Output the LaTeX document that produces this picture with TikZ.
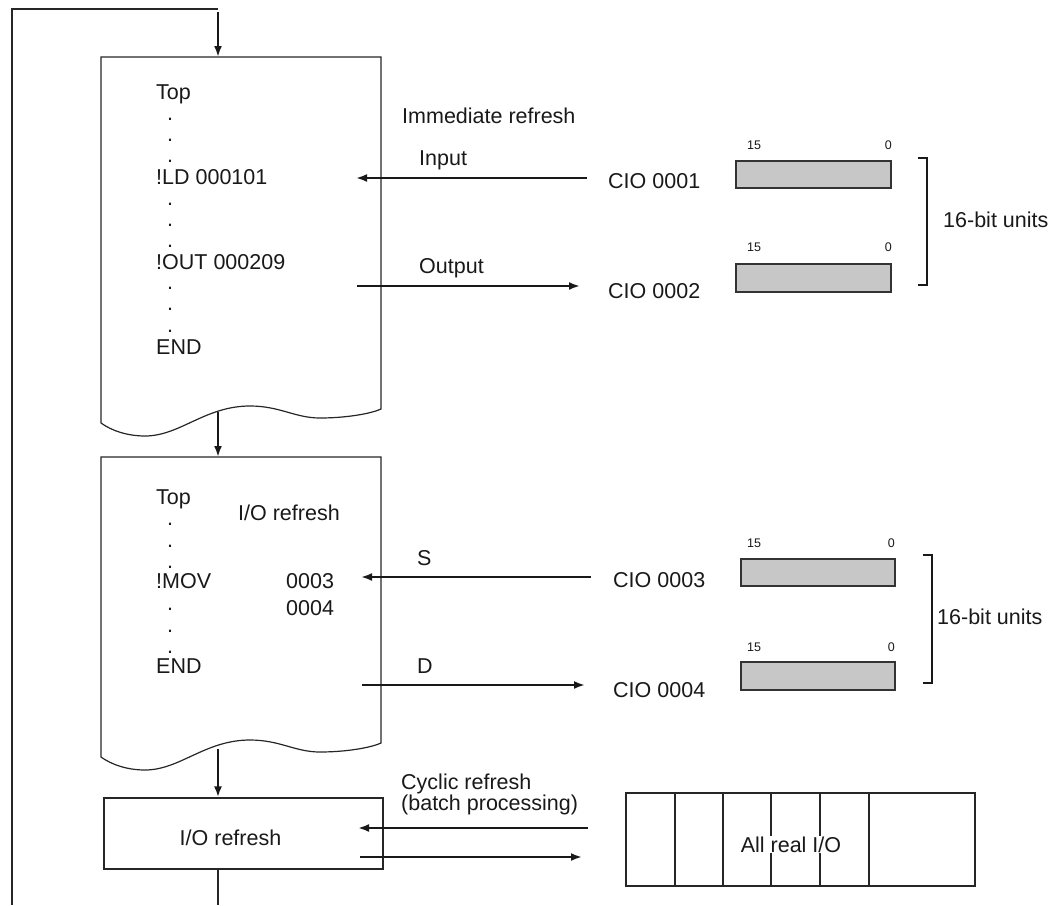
\documentclass[tikz,border=0pt]{standalone}
\usepackage{fontspec}
\setmainfont{Liberation Sans}
\usetikzlibrary{arrows.meta}
\begin{document}
\begin{tikzpicture}[x=1pt,y=-1pt,
  outl/.style={draw=black!85,line width=1.2pt},
  arr/.style={draw=black!90,line width=2.8pt,-{Latex[length=11pt,width=8pt]}},
  lbl/.style={font=\fontsize{21.5}{25}\selectfont,text=black!90,inner sep=0pt,anchor=base west},
  dotl/.style={font=\fontsize{21.5}{25}\selectfont,text=black!90,inner sep=0pt,anchor=base},
  sm/.style={font=\fontsize{12.5}{15}\selectfont,text=black!90,inner sep=0pt},
  reg/.style={draw=black!80,fill=black!22,line width=1.4pt,inner sep=0pt},
  brk/.style={draw=black!90,line width=2.4pt}
]
\useasboundingbox (0,0) rectangle (1057,905);

% ---------- loop line ----------
\coordinate (loopbot) at (12,905);
\coordinate (looptop) at (218,9);
\coordinate (loopstart) at (218,12);
\draw[outl] (loopbot) -- (loopbot |- looptop) -- (looptop);

% ---------- program 1 (document shape) ----------
\coordinate (d1top) at (218,57);
\coordinate (d1bot) at (218,412);
\draw[outl] (101,423) -- (101,57) -- (381,57) -- (381,409)
  .. controls (370,414) and (345,418) .. (320,418)
  .. controls (295,418) and (280,406) .. (250,406)
  .. controls (205,406) and (180,436) .. (145,436)
  .. controls (128,436) and (112,431) .. (101,423) -- cycle;
\draw[arr] (loopstart) -- (d1top);

\node[lbl] (t1) at (156,99) {Top};
\node[dotl] (p1a) at (170,120) {.};
\node[dotl] (p1b) at (170,141) {.};
\node[dotl] (p1c) at (170,162) {.};
\node[lbl] (ld) at (156,184) {!LD 000101};
\node[dotl] (p1d) at (170,205) {.};
\node[dotl] (p1e) at (170,226) {.};
\node[dotl] (p1f) at (170,247) {.};
\node[lbl] (out) at (156,269) {!OUT 000209};
\node[dotl] (p1g) at (170,289) {.};
\node[dotl] (p1h) at (170,310) {.};
\node[dotl] (p1i) at (170,332) {.};
\node[lbl] (end1) at (156,354) {END};

% immediate refresh labels and arrows
\node[lbl] (imm) at (402,123) {Immediate refresh};
\node[lbl] (inl) at (419,165) {Input};
\node[lbl] (cio1) at (608,188) {CIO 0001};
\node[lbl] (outl) at (419,273) {Output};
\node[lbl] (cio2) at (608,298) {CIO 0002};
\coordinate (in1s) at (587,178);
\coordinate (in1e) at (356,178);
\coordinate (out1s) at (357,286);
\coordinate (out1e) at (580,286);
\draw[arr] (in1s) -- (in1e);
\draw[arr] (out1s) -- (out1e);

% registers upper
\node[reg,minimum width=155,minimum height=27] (r1) at (813.5,174.5) {};
\node[reg,minimum width=155,minimum height=28] (r2) at (813.5,278) {};
\node[sm,anchor=base west] (r1h) at (747,149.5) {15};
\node[sm,anchor=base east] (r1l) at (892,149.5) {0};
\node[sm,anchor=base west] (r2h) at (747,251.5) {15};
\node[sm,anchor=base east] (r2l) at (892,251.5) {0};
\coordinate (b1t) at (918,158);
\coordinate (b1b) at (918,285);
\draw[brk] (b1t) -- ++(9,0) -- ++(0,127) -- (b1b);
\node[lbl] (u1) at (943,227.5) {16-bit units};

% ---------- program 2 ----------
\coordinate (d2top) at (218,457);
\coordinate (d2bot) at (218,749);
\draw[outl] (101,757) -- (101,457) -- (381,457) -- (381,743)
  .. controls (370,748) and (345,752) .. (320,752)
  .. controls (295,752) and (280,740) .. (250,740)
  .. controls (205,740) and (180,770) .. (145,770)
  .. controls (128,770) and (112,765) .. (101,757) -- cycle;
\draw[arr] (d1bot) -- (d2top);

\node[lbl] (t2) at (156,504) {Top};
\node[lbl] (ior) at (238,520) {I/O refresh};
\node[dotl] (p2a) at (170,525) {.};
\node[dotl] (p2b) at (170,547) {.};
\node[dotl] (p2c) at (170,568) {.};
\node[lbl] (mov) at (156,588) {!MOV};
\node[lbl] (o3) at (286,588) {0003};
\node[lbl] (o4) at (286,615) {0004};
\node[dotl] (p2d) at (170,610) {.};
\node[dotl] (p2e) at (170,632) {.};
\node[dotl] (p2f) at (170,653) {.};
\node[lbl] (end2) at (156,673) {END};

\node[lbl] (sl) at (417,565) {S};
\node[lbl] (cio3) at (613,587) {CIO 0003};
\node[lbl] (dl) at (417,673) {D};
\node[lbl] (cio4) at (613,697) {CIO 0004};
\coordinate (s1) at (591,577);
\coordinate (s2) at (361,577);
\coordinate (dd1) at (362,685);
\coordinate (dd2) at (585,685);
\draw[arr] (s1) -- (s2);
\draw[arr] (dd1) -- (dd2);

% registers lower
\node[reg,minimum width=154,minimum height=27] (r3) at (818,572.5) {};
\node[reg,minimum width=154,minimum height=28] (r4) at (818,676) {};
\node[sm,anchor=base west] (r3h) at (747,547.5) {15};
\node[sm,anchor=base east] (r3l) at (895,547.5) {0};
\node[sm,anchor=base west] (r4h) at (747,651.5) {15};
\node[sm,anchor=base east] (r4l) at (895,651.5) {0};
\coordinate (b2t) at (923,555);
\coordinate (b2b) at (923,683);
\draw[brk] (b2t) -- ++(9,0) -- ++(0,128) -- (b2b);
\node[lbl] (u2) at (937,624.5) {16-bit units};

% ---------- cyclic I/O refresh ----------
\node[outl,minimum width=279,minimum height=71,inner sep=0pt] (iobox) at (243.5,833.5) {};
\node[lbl,anchor=base] (iot) at (230.5,845) {I/O refresh};
\draw[arr] (d2bot) -- (d2bot |- iobox.north);
\coordinate (exit) at (218,905);
\draw[outl] (exit |- iobox.south) -- (exit);

\node[lbl] (cyc1) at (401,789) {Cyclic refresh};
\node[lbl] (cyc2) at (401,810) {(batch processing)};
\coordinate (c1s) at (588,828);
\coordinate (c1e) at (358,828);
\coordinate (c2s) at (360,857);
\coordinate (c2e) at (582,857);
\draw[arr] (c1s) -- (c1e);
\draw[arr] (c2s) -- (c2e);

% all real I/O
\draw[draw=black!85,line width=1.5pt] (626,793) rectangle (975,886);
\foreach \xx in {675,723,771,820,869}
  \draw[draw=black!85,line width=1.5pt] (\xx,793) -- (\xx,886);
\node[lbl,anchor=base,fill=white,inner sep=0.5pt] (allio) at (791,852) {All real I/O};
\end{tikzpicture}
\end{document}
